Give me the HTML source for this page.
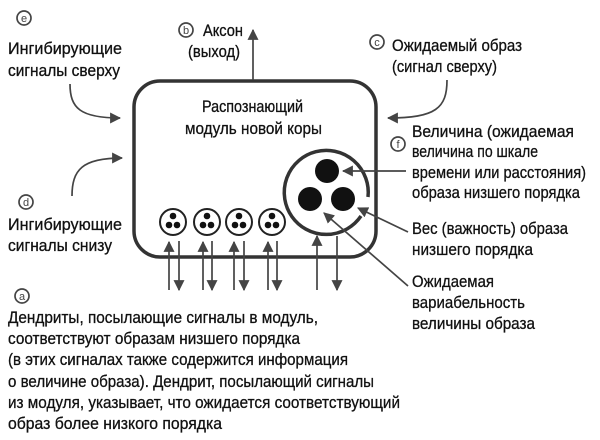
<!DOCTYPE html>
<html><head><meta charset="utf-8"><style>
html,body{margin:0;padding:0;background:#fff;}
svg{display:block;}
text{font-family:"Liberation Sans",sans-serif;font-size:17px;fill:#111;stroke:#111;stroke-width:0.3;}
.s{font-size:11px;stroke-width:0;fill:#444;}
</style></head><body>
<svg width="600" height="440" viewBox="0 0 600 440" xmlns="http://www.w3.org/2000/svg">
<defs>
<marker id="ab" viewBox="0 0 10 10" refX="9" refY="5" markerWidth="11" markerHeight="11" markerUnits="userSpaceOnUse" orient="auto"><path d="M0,0 L10,5 L0,10 z" fill="#444"/></marker>
</defs>
<g fill="none" stroke="#444" stroke-width="1.7">
<rect x="134" y="81" width="242" height="176" rx="26" stroke="#333" stroke-width="3.5"/>
<line x1="253" y1="80" x2="253" y2="30" marker-end="url(#ab)"/>
<path d="M70,84 C70,108 80,118 120,118" marker-end="url(#ab)"/>
<path d="M72,196 C72,170 82,158 122,158" marker-end="url(#ab)"/>
<path d="M447,80 C447,108 436,118 388,118" marker-end="url(#ab)"/>
<line x1="169" y1="290" x2="169" y2="242" marker-end="url(#ab)"/>
<line x1="179" y1="241" x2="179" y2="290" marker-end="url(#ab)"/>
<line x1="203" y1="290" x2="203" y2="242" marker-end="url(#ab)"/>
<line x1="212" y1="241" x2="212" y2="290" marker-end="url(#ab)"/>
<line x1="234" y1="290" x2="234" y2="242" marker-end="url(#ab)"/>
<line x1="244" y1="241" x2="244" y2="290" marker-end="url(#ab)"/>
<line x1="268" y1="290" x2="268" y2="242" marker-end="url(#ab)"/>
<line x1="277" y1="241" x2="277" y2="290" marker-end="url(#ab)"/>
<line x1="317" y1="290" x2="317" y2="236" marker-end="url(#ab)"/>
<line x1="337" y1="236" x2="337" y2="290" marker-end="url(#ab)"/>
<path d="M368,197 A42,42 0 1 0 361,216" stroke="#333" stroke-width="3.5"/>
<line x1="406" y1="171" x2="343" y2="171" marker-end="url(#ab)"/>
<line x1="408" y1="232" x2="358" y2="208" marker-end="url(#ab)"/>
<line x1="408" y1="286" x2="324" y2="213" marker-end="url(#ab)"/>
<circle cx="24" cy="18" r="7"/>
<circle cx="186" cy="30" r="7"/>
<circle cx="377" cy="42" r="7"/>
<circle cx="398" cy="144" r="7"/>
<circle cx="26" cy="202" r="7"/>
<circle cx="22" cy="296" r="7"/>
<circle cx="173" cy="222" r="13" stroke="#222" stroke-width="2"/>
<circle cx="207" cy="222" r="13" stroke="#222" stroke-width="2"/>
<circle cx="239" cy="222" r="13" stroke="#222" stroke-width="2"/>
<circle cx="272" cy="222" r="13" stroke="#222" stroke-width="2"/>
</g>
<g fill="#111">
<circle cx="327" cy="171" r="12"/><circle cx="310" cy="199" r="12"/><circle cx="343" cy="199" r="12"/>
<circle cx="173" cy="216" r="3.3"/><circle cx="169" cy="225" r="3.3"/><circle cx="177" cy="225" r="3.3"/>
<circle cx="207" cy="216" r="3.3"/><circle cx="203" cy="225" r="3.3"/><circle cx="211" cy="225" r="3.3"/>
<circle cx="239" cy="216" r="3.3"/><circle cx="235" cy="225" r="3.3"/><circle cx="243" cy="225" r="3.3"/>
<circle cx="272" cy="216" r="3.3"/><circle cx="268" cy="225" r="3.3"/><circle cx="276" cy="225" r="3.3"/>
</g>
<text class="s" x="24" y="22" text-anchor="middle">e</text>
<text class="s" x="186" y="34" text-anchor="middle">b</text>
<text class="s" x="377" y="46" text-anchor="middle">c</text>
<text class="s" x="398" y="148" text-anchor="middle">f</text>
<text class="s" x="26" y="206" text-anchor="middle">d</text>
<text class="s" x="22" y="300" text-anchor="middle">a</text>
<text x="8" y="54" textLength="114" lengthAdjust="spacingAndGlyphs">Ингибирующие</text>
<text x="8" y="76" textLength="112" lengthAdjust="spacingAndGlyphs">сигналы сверху</text>
<text x="203" y="36" textLength="40" lengthAdjust="spacingAndGlyphs">Аксон</text>
<text x="188" y="57" textLength="52" lengthAdjust="spacingAndGlyphs">(выход)</text>
<text x="392" y="51" textLength="130" lengthAdjust="spacingAndGlyphs">Ожидаемый образ</text>
<text x="392" y="72" textLength="105" lengthAdjust="spacingAndGlyphs">(сигнал сверху)</text>
<text x="202" y="112" textLength="101" lengthAdjust="spacingAndGlyphs">Распознающий</text>
<text x="185" y="134" textLength="137" lengthAdjust="spacingAndGlyphs">модуль новой коры</text>
<text x="412" y="137" textLength="162" lengthAdjust="spacingAndGlyphs">Величина (ожидаемая</text>
<text x="412" y="157" textLength="126" lengthAdjust="spacingAndGlyphs">величина по шкале</text>
<text x="412" y="178" textLength="174" lengthAdjust="spacingAndGlyphs">времени или расстояния)</text>
<text x="412" y="198" textLength="168" lengthAdjust="spacingAndGlyphs">образа низшего порядка</text>
<text x="412" y="234" textLength="156" lengthAdjust="spacingAndGlyphs">Вес (важность) образа</text>
<text x="412" y="255" textLength="121" lengthAdjust="spacingAndGlyphs">низшего порядка</text>
<text x="412" y="287" textLength="82" lengthAdjust="spacingAndGlyphs">Ожидаемая</text>
<text x="412" y="308" textLength="113" lengthAdjust="spacingAndGlyphs">вариабельность</text>
<text x="412" y="329" textLength="123" lengthAdjust="spacingAndGlyphs">величины образа</text>
<text x="8" y="230" textLength="114" lengthAdjust="spacingAndGlyphs">Ингибирующие</text>
<text x="8" y="251" textLength="104" lengthAdjust="spacingAndGlyphs">сигналы снизу</text>
<text x="8" y="323" textLength="310" lengthAdjust="spacingAndGlyphs">Дендриты, посылающие сигналы в модуль,</text>
<text x="8" y="344" textLength="292" lengthAdjust="spacingAndGlyphs">соответствуют образам низшего порядка</text>
<text x="8" y="365" textLength="340" lengthAdjust="spacingAndGlyphs">(в этих сигналах также содержится информация</text>
<text x="8" y="387" textLength="366" lengthAdjust="spacingAndGlyphs">о величине образа). Дендрит, посылающий сигналы</text>
<text x="8" y="408" textLength="392" lengthAdjust="spacingAndGlyphs">из модуля, указывает, что ожидается соответствующий</text>
<text x="8" y="429" textLength="214" lengthAdjust="spacingAndGlyphs">образ более низкого порядка</text>
</svg>
</body></html>
